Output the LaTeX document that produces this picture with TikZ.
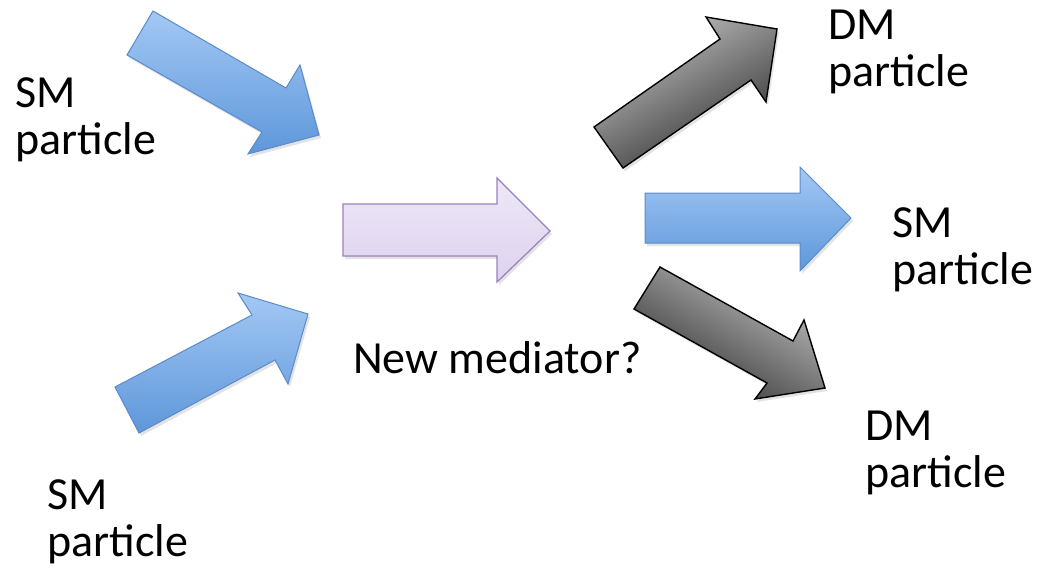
\documentclass[tikz,border=0pt]{standalone}
\usepackage{fontspec}
\setmainfont{Carlito}
\usetikzlibrary{shadows}
\definecolor{blueTop}{HTML}{A3C8F4}
\definecolor{blueBot}{HTML}{5E97DA}
\definecolor{blueEdge}{HTML}{5A8ACB}
\definecolor{purpTop}{HTML}{EEE8F8}
\definecolor{purpBot}{HTML}{DDD2EE}
\definecolor{purpEdge}{HTML}{9A80BE}
\definecolor{darkTop}{HTML}{C4C4C4}
\definecolor{darkBot}{HTML}{2E2E2E}
\begin{document}
\begin{tikzpicture}[x=1pt,y=-1pt,
  shad/.style={drop shadow={opacity=0.22,shadow xshift=2pt,shadow yshift=-3pt}},
  bluearrow/.style={draw=blueEdge,line width=1pt,line join=miter,top color=blueTop,bottom color=blueBot,shad},
  purparrow/.style={draw=purpEdge,line width=1.2pt,top color=purpTop,bottom color=purpBot,shad},
  darkarrow/.style={draw=black,line width=1.4pt,top color=darkTop,bottom color=darkBot,shad},
  lbl/.style={font=\fontsize{46}{47}\selectfont,align=left,inner sep=0pt,anchor=base west}]
\useasboundingbox (0,0) rectangle (1040,572);
% incoming blue arrows
\path[bluearrow] (153,11) -- (286,88) -- (300,65) -- (319,135) -- (248,154) -- (262,132) -- (127,55) -- cycle;
\path[bluearrow] (115,387) -- (252,315) -- (238,293) -- (308,314) -- (288,384) -- (275,360) -- (139,433) -- cycle;
% mediator
\path[purparrow] (343,204) -- (497,204) -- (497,178) -- (550,231) -- (497,282) -- (497,256) -- (343,256) -- cycle;
% outgoing
\path[darkarrow,shading angle=30] (594,127) -- (720,39) -- (706,17) -- (777,29) -- (766,102) -- (751,80) -- (623,168) -- cycle;
\path[bluearrow] (645,193) -- (800,193) -- (800,167) -- (851,218) -- (800,271) -- (800,243) -- (645,243) -- cycle;
\path[darkarrow,shading angle=-30] (660,267) -- (793,341) -- (804,320) -- (825,388) -- (755,399) -- (767,383) -- (634,309) -- cycle;
% labels (anchor = baseline of the last line)
\node[lbl] (smA) at (15,154) {SM\\particle};
\node[lbl] (smB) at (47,556) {SM\\particle};
\node[lbl] (med) at (353,373) {New mediator?};
\node[lbl] (dmA) at (828,87) {DM\\particle};
\node[lbl] (smC) at (892,284) {SM\\particle};
\node[lbl] (dmB) at (865,487) {DM\\particle};
\end{tikzpicture}
\end{document}
